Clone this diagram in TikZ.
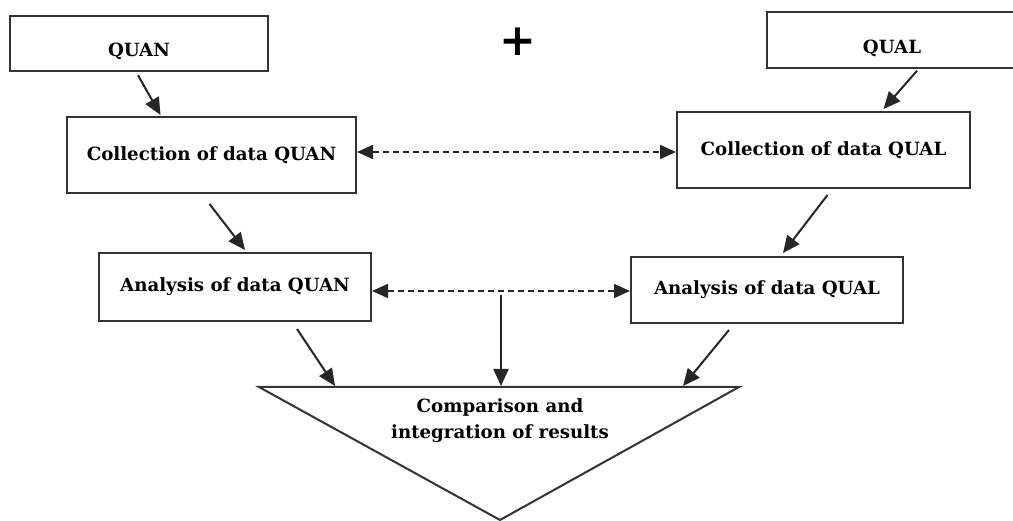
\documentclass[tikz,border=0pt]{standalone}
\usepackage{fontspec}
\setmainfont{DejaVu Serif}
\usetikzlibrary{arrows.meta}

\tikzset{
  box/.style={draw=black!80, line width=2pt, inner sep=0pt,
    font=\bfseries\fontsize{18.2}{21}\selectfont},
  topbox/.style={box, text height=41pt, text depth=14.5pt},
  arr/.style={-{Triangle[length=17pt,width=15pt]}, line width=2pt, draw=black!85},
  dasharr/.style={{Triangle[length=16pt,width=14pt]}-{Triangle[length=16pt,width=14pt]},
    line width=1.6pt, draw=black!85, dash pattern=on 6pt off 4pt}
}

\begin{document}
\begin{tikzpicture}[x=1pt,y=-1pt]
\useasboundingbox (0,0) rectangle (1013,521);

\node[topbox, minimum width=258pt] (quan) at (139,43.5) {QUAN};
\node[topbox, minimum width=250pt] (qual) at (892,40) {QUAL};
\node[font=\bfseries\fontsize{44}{44}\selectfont] (plus) at (518,42) {+};

\node[box, minimum width=289pt, minimum height=76pt] (collquan) at (211.5,155) {Collection of data QUAN};
\node[box, minimum width=293pt, minimum height=76pt] (collqual) at (823.5,150) {Collection of data QUAL};
\node[box, minimum width=272pt, minimum height=68pt] (anaquan) at (235,287) {Analysis of data QUAN};
\node[box, minimum width=272pt, minimum height=66pt] (anaqual) at (767,290) {Analysis of data QUAL};

\coordinate (tl) at (259,387);
\coordinate (tr) at (739,387);
\coordinate (tb) at (500,520);
\draw[line width=2pt, draw=black!80] (tl) -- (tr) -- (tb) -- cycle;
\node[font=\bfseries\fontsize{18.2}{26}\selectfont, align=center] (cmp) at (500,421) {Comparison and\\integration of results};

\coordinate (ta) at (335,386);
\coordinate (tm) at (501,386);
\coordinate (tc) at (683,386);
\coordinate (mid) at (501,295);

\draw[arr] ([shift={(-1,3)}]quan.south) -- ([shift={(-51,-1)}]collquan.north);
\draw[arr] ([shift={(25,2)}]qual.south) -- ([shift={(60,-2)}]collqual.north);
\draw[arr] ([shift={(-2,10)}]collquan.south) -- ([shift={(10,-2)}]anaquan.north);
\draw[arr] ([shift={(4,6)}]collqual.south) -- ([shift={(16,-3)}]anaqual.north);
\draw[arr] ([shift={(62,7)}]anaquan.south) -- (ta);
\draw[arr] ([shift={(-38,6)}]anaqual.south) -- (tc);
\draw[arr] (mid) -- (tm);

\draw[dasharr] ([shift={(0,-3)}]collquan.east) -- ([shift={(0,2)}]collqual.west);
\draw[dasharr] ([shift={(0,4)}]anaquan.east) -- ([shift={(0,1)}]anaqual.west);

% \node at (plus) {\textbullet};

\end{tikzpicture}
\end{document}
